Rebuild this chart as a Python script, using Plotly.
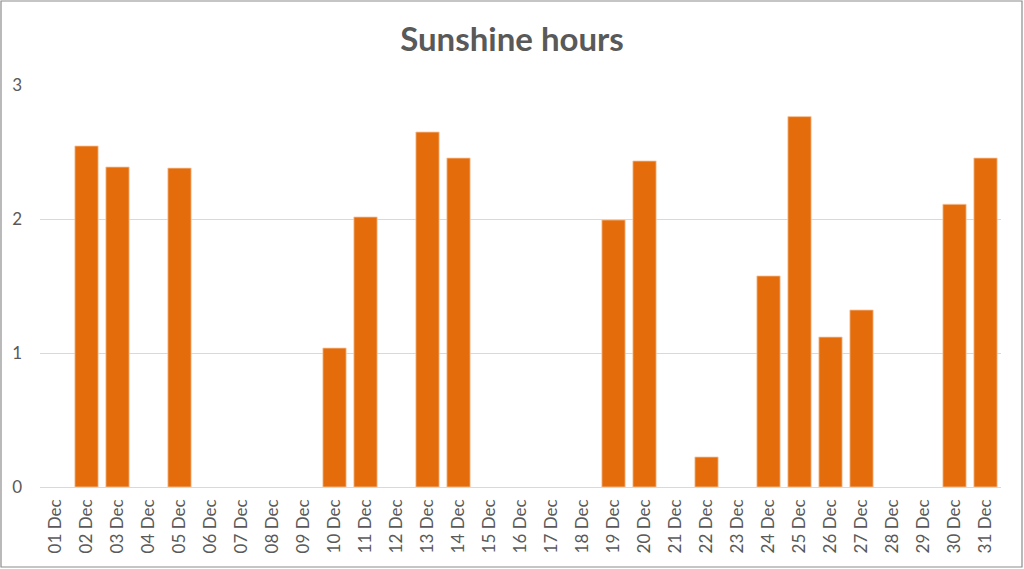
import plotly.graph_objects as go

days = [f"{d:02d} Dec" for d in range(1, 32)]
hours = [0, 2.545, 2.388, 0, 2.38, 0, 0, 0, 0, 1.037, 2.015, 0, 2.649, 2.455,
         0, 0, 0, 0, 1.993, 2.433, 0, 0.224, 0, 1.575, 2.764, 1.119, 1.321,
         0, 0, 2.11, 2.455]
y_ticks = [0, 1, 2, 3]

W, H = 1024, 569
L, R, T, B = 40, 23, 85, 82
pw, ph = W - L - R, H - T - B

def px(x):
    return (x - L) / pw

def py(y):
    return (H - B - y) / ph

fig = go.Figure()
fig.add_trace(go.Bar(
    x=days, y=hours,
    marker=dict(color="#E46C0A",
                line=dict(color="#F5C8A5", width=[0.8 if v > 0 else 0 for v in hours])),
))

font = "Lato, 'Open Sans', sans-serif"
fig.update_layout(
    width=W, height=H,
    margin=dict(l=L, r=R, t=T, b=B),
    paper_bgcolor="white", plot_bgcolor="white",
    bargap=0.25,
    showlegend=False,
    title=dict(text="<b>Sunshine hours</b>", x=0.5, xanchor="center",
               y=1 - 39 / H, yanchor="middle",
               font=dict(family=font, size=33, color="#595959")),
    xaxis=dict(tickangle=-90, tickfont=dict(family=font, size=17, color="#595959"),
               showline=False, showgrid=False, ticks="", ticklabelstandoff=8),
    yaxis=dict(range=[0, 3], tickvals=y_ticks, showgrid=True, gridcolor="#D9D9D9",
               gridwidth=1, zeroline=True, zerolinecolor="#D9D9D9", zerolinewidth=1,
               tickfont=dict(family=font, size=17, color="#595959"),
               ticklabelstandoff=17, showline=False, ticks=""),
    shapes=[dict(type="rect", xref="paper", yref="paper",
                 x0=px(1), x1=px(1022), y0=py(567), y1=py(1),
                 line=dict(color="#8C8C8C", width=1.2), fillcolor="rgba(0,0,0,0)",
                 layer="below")],
)

fig.write_html("out.html")
